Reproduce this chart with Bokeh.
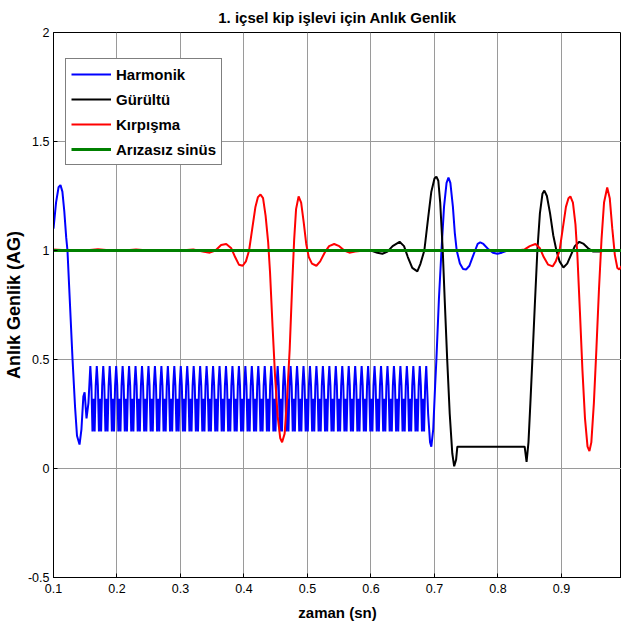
import numpy as np
from bokeh.plotting import figure
from bokeh.models import Range1d, FixedTicker, Legend, LegendItem
from bokeh.embed import file_html
from bokeh.resources import INLINE

FONT = "Liberation Sans"

title_text = "1. içsel kip işlevi için Anlık Genlik"
x_label = "zaman (sn)"
y_label = "Anlık Genlik (AG)"
series_names = ["Harmonik", "Gürültü", "Kırpışma", "Arızasız sinüs"]
x_ticks = [0.1, 0.2, 0.3, 0.4, 0.5, 0.6, 0.7, 0.8, 0.9, 1.0]
y_ticks = [-0.5, 0, 0.5, 1, 1.5, 2]

# Harmonik (blue): lead-in, harmonic-distorted section, recovery
harm_in_x = [0.100, 0.104, 0.108, 0.111, 0.114, 0.117, 0.120, 0.122, 0.126, 0.130,
             0.134, 0.137, 0.141, 0.144, 0.147, 0.149, 0.152, 0.155]
harm_in_y = [1.10, 1.22, 1.29, 1.30, 1.27, 1.18, 1.06, 1.00, 0.75, 0.50,
             0.28, 0.15, 0.11, 0.18, 0.33, 0.35, 0.23, 0.30]
harm_mid_start, harm_mid_end = 0.158, 0.687
harm_mid_y = [0.47,
    0.38, 0.17, 0.32, 0.17, 0.38, 0.47, 0.38, 0.17, 0.32, 0.17, 0.38, 0.47,
    0.38, 0.17, 0.32, 0.17, 0.38, 0.47, 0.38, 0.17, 0.32, 0.17, 0.38, 0.47,
    0.38, 0.17, 0.32, 0.17, 0.38, 0.47, 0.38, 0.17, 0.32, 0.17, 0.38, 0.47,
    0.38, 0.17, 0.32, 0.17, 0.38, 0.47, 0.38, 0.17, 0.32, 0.17, 0.38, 0.47,
    0.38, 0.17, 0.32, 0.17, 0.38, 0.47, 0.38, 0.17, 0.32, 0.17, 0.38, 0.47,
    0.38, 0.17, 0.32, 0.17, 0.38, 0.47, 0.38, 0.17, 0.32, 0.17, 0.38, 0.47,
    0.38, 0.17, 0.32, 0.17, 0.38, 0.47, 0.38, 0.17, 0.32, 0.17, 0.38, 0.47,
    0.38, 0.17, 0.32, 0.17, 0.38, 0.47, 0.38, 0.17, 0.32, 0.17, 0.38, 0.47,
    0.38, 0.17, 0.32, 0.17, 0.38, 0.47, 0.38, 0.17, 0.32, 0.17, 0.38, 0.47,
    0.38, 0.17, 0.32, 0.17, 0.38, 0.47, 0.38, 0.17, 0.32, 0.17, 0.38, 0.47,
    0.38, 0.17, 0.32, 0.17, 0.38, 0.47, 0.38, 0.17, 0.32, 0.17, 0.38, 0.47,
    0.38, 0.17, 0.32, 0.17, 0.38, 0.47, 0.38, 0.17, 0.32, 0.17, 0.38, 0.47,
    0.38, 0.17, 0.32, 0.17, 0.38, 0.47, 0.38, 0.17, 0.32, 0.17, 0.38, 0.47,
    0.38, 0.17, 0.32, 0.17, 0.38, 0.47, 0.38, 0.17, 0.32, 0.17, 0.38, 0.47,
    0.38, 0.17, 0.32, 0.17, 0.38, 0.47, 0.38, 0.17, 0.32, 0.17, 0.38, 0.47,
    0.38, 0.17, 0.32, 0.17, 0.38, 0.47, 0.38, 0.17, 0.32, 0.17, 0.38, 0.47,
    0.38, 0.17, 0.32, 0.17, 0.38, 0.47, 0.38, 0.17, 0.32, 0.17, 0.38, 0.47,
    0.38, 0.17, 0.32, 0.17, 0.38, 0.47, 0.38, 0.17, 0.32, 0.17, 0.38, 0.47,
    0.38, 0.17, 0.32, 0.17, 0.38, 0.47, 0.38, 0.17, 0.32, 0.17, 0.38, 0.47,
    0.38, 0.17, 0.32, 0.17, 0.38, 0.47, 0.38, 0.17, 0.32, 0.17, 0.38, 0.47,
    0.38, 0.17, 0.32, 0.17, 0.38, 0.47, 0.38, 0.17, 0.32, 0.17, 0.38, 0.47,
    0.38, 0.17, 0.32, 0.17, 0.38, 0.47, 0.38, 0.17, 0.32, 0.17, 0.38, 0.47,
    0.38, 0.17, 0.32, 0.17, 0.38, 0.47, 0.38, 0.17, 0.32, 0.17, 0.38, 0.47,
    0.38, 0.17, 0.32, 0.17, 0.38, 0.47, 0.38, 0.17, 0.32, 0.17, 0.38, 0.47,
    0.38, 0.17, 0.32, 0.17, 0.38, 0.47, 0.38, 0.17, 0.32, 0.17, 0.38, 0.47,
    0.38, 0.17, 0.32, 0.17, 0.38, 0.47, 0.38, 0.17, 0.32, 0.17, 0.38, 0.47]
harm_out_x = [0.690, 0.693, 0.695, 0.698, 0.701, 0.703, 0.707, 0.711, 0.715, 0.719,
              0.722, 0.725, 0.729, 0.732, 0.735, 0.740, 0.745, 0.750, 0.755, 0.760,
              0.764, 0.768, 0.772, 0.777, 0.785, 0.792, 0.799, 0.806, 0.815, 1.000]
harm_out_y = [0.25, 0.12, 0.10, 0.18, 0.38, 0.50, 0.78, 1.00, 1.20, 1.31,
              1.335, 1.31, 1.20, 1.08, 1.00, 0.94, 0.915, 0.913, 0.93, 0.97,
              1.00, 1.03, 1.037, 1.03, 1.005, 0.99, 0.985, 0.99, 1.00, 1.00]

# Gürültü (black)
noise_x = [0.100, 0.600, 0.610, 0.618, 0.626, 0.634, 0.645, 0.652, 0.658, 0.665,
           0.673, 0.678, 0.684, 0.690, 0.695, 0.700, 0.703, 0.706, 0.709, 0.713,
           0.716, 0.720, 0.724, 0.728, 0.731, 0.734, 0.736, 0.842, 0.845, 0.848,
           0.851, 0.854, 0.858, 0.862, 0.866, 0.870, 0.873, 0.877, 0.882, 0.887,
           0.892, 0.897, 0.903, 0.909, 0.915, 0.921, 0.928, 0.935, 0.942, 0.950,
           0.960, 0.970, 1.000]
noise_y = [1.00, 1.00, 0.99, 0.985, 0.995, 1.02, 1.04, 1.02, 0.97, 0.92,
           0.904, 0.94, 1.00, 1.15, 1.27, 1.33, 1.339, 1.32, 1.22, 1.00,
           0.78, 0.50, 0.25, 0.07, 0.01, 0.04, 0.10, 0.10, 0.03, 0.12,
           0.30, 0.49, 0.75, 1.00, 1.17, 1.26, 1.275, 1.25, 1.17, 1.07,
           1.00, 0.95, 0.922, 0.94, 0.98, 1.02, 1.04, 1.03, 1.01, 0.995,
           0.995, 1.00, 1.00]

# Kırpışma (red)
flick_x = [0.100, 0.140, 0.170, 0.200, 0.230, 0.260, 0.300, 0.320, 0.335, 0.346,
           0.355, 0.364, 0.372, 0.380, 0.386,
           0.392, 0.398, 0.403, 0.408, 0.413, 0.418, 0.422, 0.426, 0.430, 0.434,
           0.438, 0.441, 0.445, 0.449, 0.453, 0.457, 0.460, 0.464, 0.468, 0.472,
           0.476, 0.479, 0.482, 0.486, 0.490, 0.494, 0.498, 0.502, 0.507, 0.514,
           0.520, 0.527, 0.534, 0.542, 0.550, 0.558, 0.566, 0.575, 0.590, 0.830,
           0.842, 0.850, 0.859, 0.866, 0.872, 0.879, 0.886, 0.891, 0.897, 0.902,
           0.907, 0.911, 0.914, 0.918, 0.922, 0.925, 0.929, 0.933, 0.937, 0.941,
           0.944, 0.947, 0.951, 0.955, 0.959, 0.963, 0.967, 0.972, 0.976, 0.980,
           0.984, 0.988, 0.991, 0.995, 1.000]
flick_y = [1.005, 0.998, 1.006, 0.998, 1.005, 0.998, 1.00, 1.005, 0.995, 0.99,
           1.00, 1.025, 1.03, 1.01, 0.97,
           0.935, 0.93, 0.95, 1.00, 1.10, 1.20, 1.245, 1.257, 1.24, 1.16,
           1.04, 0.90, 0.65, 0.42, 0.24, 0.14, 0.12, 0.16, 0.33, 0.55,
           0.85, 1.05, 1.19, 1.248, 1.22, 1.13, 1.03, 0.97, 0.94, 0.93,
           0.95, 0.99, 1.02, 1.03, 1.02, 1.00, 0.99, 0.995, 1.00, 1.00,
           1.005, 1.02, 1.03, 1.01, 0.97, 0.935, 0.927, 0.95, 1.00, 1.10,
           1.20, 1.24, 1.248, 1.22, 1.12, 0.98, 0.72, 0.45, 0.23, 0.10,
           0.08, 0.12, 0.30, 0.55, 0.82, 1.05, 1.22, 1.289, 1.24, 1.10,
           0.98, 0.92, 0.913, 0.93, 0.98]

# Arızasız sinüs (green)
clean_x = [0.100, 1.000]
clean_y = [1.00, 1.00]

harm_mid_x = np.linspace(harm_mid_start, harm_mid_end, len(harm_mid_y))
harm_x = np.concatenate([harm_in_x, harm_mid_x, harm_out_x])
harm_y = np.concatenate([harm_in_y, harm_mid_y, harm_out_y])

p = figure(frame_width=568, frame_height=545,
           x_range=Range1d(0.1, 0.9945), y_range=Range1d(-0.5, 2.0),
           output_backend="svg", toolbar_location=None,
           min_border_left=46, min_border_right=0,
           min_border_top=29, min_border_bottom=42)

p.title.text = title_text
p.title.align = "center"
p.title.text_font = FONT
p.title.text_font_size = "15px"
p.title.text_font_style = "bold"
p.title.text_color = "black"
p.title.standoff = 13

r_h = p.line(harm_x, harm_y, line_color="#0000ff", line_width=2)
r_n = p.line(noise_x, noise_y, line_color="#000000", line_width=2)
r_f = p.line(flick_x, flick_y, line_color="#ff0000", line_width=2)
r_c = p.line(clean_x, clean_y, line_color="#008000", line_width=3)

for ax in (p.xaxis[0], p.yaxis[0]):
    ax.major_tick_in = 4
    ax.major_tick_out = 0
    ax.minor_tick_in = 0
    ax.minor_tick_out = 0
    ax.axis_line_color = "black"
    ax.major_tick_line_color = "black"
    ax.major_label_text_font = FONT
    ax.major_label_text_font_size = "12.5px"
    ax.major_label_text_color = "black"
    ax.axis_label_text_font = FONT
    ax.axis_label_text_font_style = "bold"
    ax.axis_label_text_color = "black"

p.xaxis.axis_label_text_font_size = "15px"
p.yaxis.axis_label_text_font_size = "18px"
p.xaxis.ticker = FixedTicker(ticks=x_ticks)
p.yaxis.ticker = FixedTicker(ticks=y_ticks)
p.xaxis.major_label_overrides = {t: ("1" if t == 1.0 else f"{t:.1f}") for t in x_ticks}
p.yaxis.major_label_overrides = {-0.5: "-0.5", 0: "0", 0.5: "0.5", 1: "1", 1.5: "1.5", 2: "2"}
p.xaxis.axis_label = x_label
p.yaxis.axis_label = y_label
p.xaxis.major_label_standoff = 6
p.yaxis.major_label_standoff = 4
p.xaxis.axis_label_standoff = 8
p.yaxis.axis_label_standoff = 1

p.outline_line_color = "black"
p.outline_line_width = 1
p.xgrid.grid_line_color = "#9a9a9a"
p.ygrid.grid_line_color = "#9a9a9a"
p.xgrid.ticker = FixedTicker(ticks=x_ticks)
p.ygrid.ticker = FixedTicker(ticks=y_ticks)

legend = Legend(items=[LegendItem(label=series_names[0], renderers=[r_h]),
                       LegendItem(label=series_names[1], renderers=[r_n]),
                       LegendItem(label=series_names[2], renderers=[r_f]),
                       LegendItem(label=series_names[3], renderers=[r_c])],
                location=(12, 412), label_text_font=FONT, label_text_font_size="15px",
                label_text_font_style="bold", label_text_color="black",
                glyph_width=40, glyph_height=20, label_height=20, spacing=5,
                padding=5, margin=0, label_standoff=5,
                border_line_color="black", border_line_width=1,
                background_fill_color="white", background_fill_alpha=1)
p.add_layout(legend, "center")

open("out.html", "w").write(file_html(p, INLINE))
